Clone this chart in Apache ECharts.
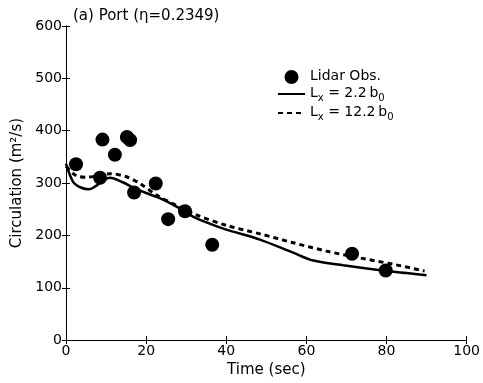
<!DOCTYPE html>
<html>
<head>
<meta charset="utf-8">
<script src="https://cdn.jsdelivr.net/npm/echarts@6/dist/echarts.min.js"></script>
<style>
html,body{margin:0;padding:0;background:#fff;}
#c{width:483px;height:383px;}
</style>
</head>
<body>
<div id="c"></div>
<script>
// ---- data ----
var obsTime = [2.5, 8.5, 9.1, 12.2, 15.2, 16.0, 17.0, 22.4, 25.5, 29.7, 36.5, 71.4, 79.8];
var obsCirc = [336, 310, 383, 354, 388, 382, 282, 299, 231, 246, 182, 165, 133];

var solidTime = [0, 1, 2, 3.5, 5.8, 7.6, 9.3, 11, 14, 17.2, 20, 23.4, 27.6, 31.7, 36, 40, 48.4, 56.7, 61.7, 69.2, 80, 85, 90];
var solidCirc = [337, 315, 300, 292, 288, 295, 305, 310, 302, 290, 281, 271, 255, 236, 222, 211, 192, 167, 152, 143, 132, 128, 124];

var dashTime = [0, 1.8, 3, 5, 8, 11, 15.1, 18.5, 22.6, 27.6, 32.6, 40.1, 48.4, 56.7, 65, 73.3, 81.6, 89.5];
var dashCirc = [332, 318, 313, 311, 314, 318, 312, 299, 277, 257, 239, 219, 203, 186, 170, 157, 145, 132];

var xTicks = [0, 20, 40, 60, 80, 100];
var yTicks = [0, 100, 200, 300, 400, 500, 600];

var titleText = '(a) Port (\u03b7=0.2349)';
var xName = 'Time (sec)';
var yName = 'Circulation (m\u00b2/s)';
var nameObs = 'Lidar Obs.';
var nameSolid = 'Lx = 2.2 b0';
var nameDash = 'Lx = 12.2 b0';
// rich-text pieces for the legend labels (base, subscript, base, subscript)
var legendRich = {};
legendRich[nameSolid] = ['L', 'x', ' = 2.2\u2009b', '0'];
legendRich[nameDash] = ['L', 'x', ' = 12.2\u2009b', '0'];

function pairs(a, b) { return a.map(function (v, i) { return [v, b[i]]; }); }

var FONT = 'DejaVu Sans';
var chart = echarts.init(document.getElementById('c'), null, {renderer: 'canvas'});

var baseX = {
  type: 'value', min: xTicks[0], max: xTicks[xTicks.length - 1], interval: 20,
  splitLine: {show: false},
  axisLine: {show: true, lineStyle: {color: '#000', width: 1}},
  axisTick: {show: true, inside: true, length: 4, lineStyle: {color: '#000'}}
};
var baseY = {
  type: 'value', min: yTicks[0], max: yTicks[yTicks.length - 1], interval: 100,
  splitLine: {show: false},
  axisLine: {show: true, lineStyle: {color: '#000', width: 1}},
  axisTick: {show: true, inside: true, length: 4, lineStyle: {color: '#000'}}
};

chart.setOption({
  backgroundColor: '#fff',
  animation: false,
  title: {
    text: titleText, left: 68, top: 4,
    textStyle: {fontFamily: FONT, fontSize: 15, fontWeight: 'normal', color: '#000'}
  },
  legend: {
    orient: 'vertical', left: 272, top: 64,
    itemWidth: 27, itemHeight: 14, itemGap: 2,
    data: [
      {name: nameObs},
      {name: nameSolid, itemStyle: {opacity: 0}},
      {name: nameDash, itemStyle: {opacity: 0}}
    ],
    formatter: function (name) {
      var p = legendRich[name];
      if (!p) return '{n|' + name + '}';
      return '{n|' + p[0] + '}{s|' + p[1] + '}{n|' + p[2] + '}{s|' + p[3] + '}';
    },
    textStyle: {
      fontFamily: FONT, fontSize: 14, color: '#000',
      rich: {
        n: {fontFamily: FONT, fontSize: 14, color: '#000', verticalAlign: 'top', lineHeight: 16},
        s: {fontFamily: FONT, fontSize: 10, color: '#000', verticalAlign: 'top', lineHeight: 10, padding: [7, 0, 0, 0]}
      }
    }
  },
  grid: {left: 66, right: 16, top: 26, bottom: 40},
  xAxis: [
    Object.assign({}, baseX, {
      position: 'bottom',
      name: xName, nameLocation: 'middle', nameGap: 19,
      nameTextStyle: {fontFamily: FONT, fontSize: 15, color: '#000'},
      axisLabel: {fontFamily: FONT, fontSize: 14, color: '#000', margin: 4}
    }),
    Object.assign({}, baseX, {position: 'top', axisLabel: {show: false}})
  ],
  yAxis: [
    Object.assign({}, baseY, {
      position: 'left',
      name: yName, nameLocation: 'middle', nameGap: 36,
      nameTextStyle: {fontFamily: FONT, fontSize: 15, color: '#000'},
      axisLabel: {fontFamily: FONT, fontSize: 14, color: '#000', margin: 4}
    }),
    Object.assign({}, baseY, {position: 'right', axisLabel: {show: false}})
  ],
  series: [
    {
      name: nameObs, type: 'scatter', symbol: 'circle', symbolSize: 14,
      itemStyle: {color: '#000', opacity: 1},
      data: pairs(obsTime, obsCirc), z: 5
    },
    {
      name: nameSolid, type: 'line', symbol: 'none', smooth: 0.3,
      lineStyle: {color: '#000', width: 2.5, type: 'solid'},
      itemStyle: {color: '#000'},
      data: pairs(solidTime, solidCirc)
    },
    {
      name: nameDash, type: 'line', symbol: 'none', smooth: 0.3,
      lineStyle: {color: '#000', width: 3, type: [5, 4]},
      itemStyle: {color: '#000'},
      data: pairs(dashTime, dashCirc)
    }
  ]
});
</script>
</body>
</html>
